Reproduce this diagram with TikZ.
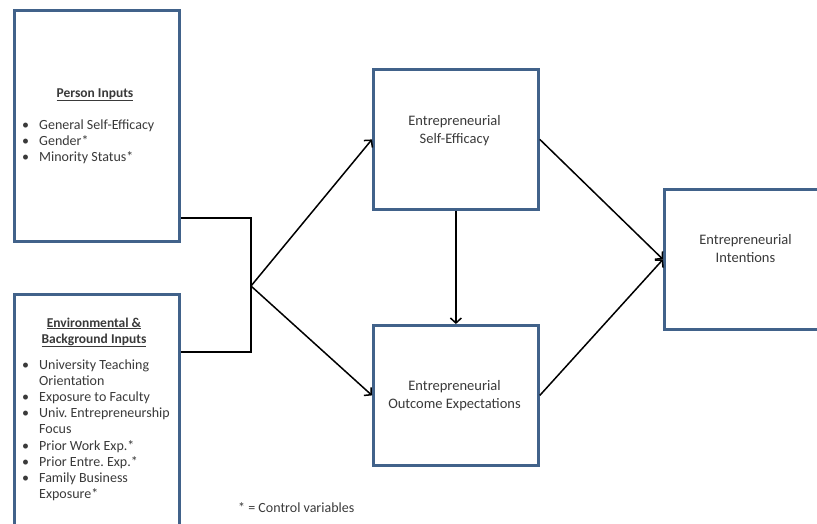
\documentclass[tikz,border=0pt]{standalone}
\usepackage{fontspec}
\setmainfont{Carlito}
\usetikzlibrary{arrows.meta,calc}
\definecolor{boxborder}{HTML}{41628A}
\definecolor{txt}{HTML}{3A3A3A}
\frenchspacing
\begin{document}
\begin{tikzpicture}[x=1pt,y=-1pt,
  box/.style={draw=boxborder,line width=2.8pt,fill=white,minimum width=165pt,anchor=north west,inner sep=0pt},
  conn/.style={draw=black,line width=1.5pt},
  arr/.style={conn,-{Straight Barb[length=5pt,width=11pt,line width=1.5pt]}},
  lbl/.style={text=txt,inner sep=0pt,anchor=base,font=\fontsize{14.5}{18}\selectfont},
  hdg/.style={text=txt,inner sep=0pt,anchor=base,font=\fontsize{13.5}{16}\selectfont\bfseries},
  lst/.style={text=txt,inner sep=0pt,anchor=base west,font=\fontsize{14}{16.2}\selectfont},
]
\useasboundingbox (0,0) rectangle (817,523);
\clip (0,0) rectangle (817,523);
% boxes
\node[box,minimum height=231pt] (pin) at (13,9) {};
\node[box,minimum height=245pt] (env) at (13,293) {};
\node[box,minimum height=140pt] (ese) at (372,68) {};
\node[box,minimum height=140pt] (oe) at (372,324) {};
\node[box,minimum height=140pt] (ei) at (663,188) {};
% connectors
\coordinate (jt) at (251,218);
\coordinate (jb) at (251,352);
\coordinate (j) at (251,286);
\draw[conn] (pin.east |- jt) -- (jt) -- (jb) -- (env.east |- jb);
\draw[arr] (j) -- (ese.west);
\draw[arr] (j) -- (oe.west);
\draw[arr] (ese.south) -- (oe.north);
\draw[arr] (ese.east) -- (ei.west);
\draw[arr] (oe.east) -- (ei.west);
% texts
\node[hdg] (pinh) at (95,97) {\underline{Person Inputs}};
\node[lst] (pinl) at (22,129) {\begin{tabular}[t]{@{}l@{}}
\makebox[17pt][l]{\textbullet}General Self-Efficacy\\
\makebox[17pt][l]{\textbullet}Gender*\\
\makebox[17pt][l]{\textbullet}Minority Status*
\end{tabular}};
\node[hdg] (envh1) at (94,327) {\underline{Environmental \&}};
\node[hdg] (envh2) at (94,343) {\underline{Background Inputs}};
\node[lst] (envl) at (22,369) {\begin{tabular}[t]{@{}l@{}}
\makebox[17pt][l]{\textbullet}University Teaching\\
\hspace{17pt}Orientation\\
\makebox[17pt][l]{\textbullet}Exposure to Faculty\\
\makebox[17pt][l]{\textbullet}Univ. Entrepreneurship\\
\hspace{17pt}Focus\\
\makebox[17pt][l]{\textbullet}Prior Work Exp.*\\
\makebox[17pt][l]{\textbullet}Prior Entre. Exp.*\\
\makebox[17pt][l]{\textbullet}Family Business\\
\hspace{17pt}Exposure*
\end{tabular}};
\node[lbl] (eset1) at (454.5,125) {Entrepreneurial};
\node[lbl] (eset2) at (454.5,143) {Self-Efficacy};
\node[lbl] (oet1) at (454.5,390) {Entrepreneurial};
\node[lbl] (oet2) at (454.5,408) {Outcome Expectations};
\node[lbl] (eit1) at (745.5,244) {Entrepreneurial};
\node[lbl] (eit2) at (745.5,262) {Intentions};
\node[lst] (ctrl) at (238,512) {* = Control variables};
\end{tikzpicture}
\end{document}
